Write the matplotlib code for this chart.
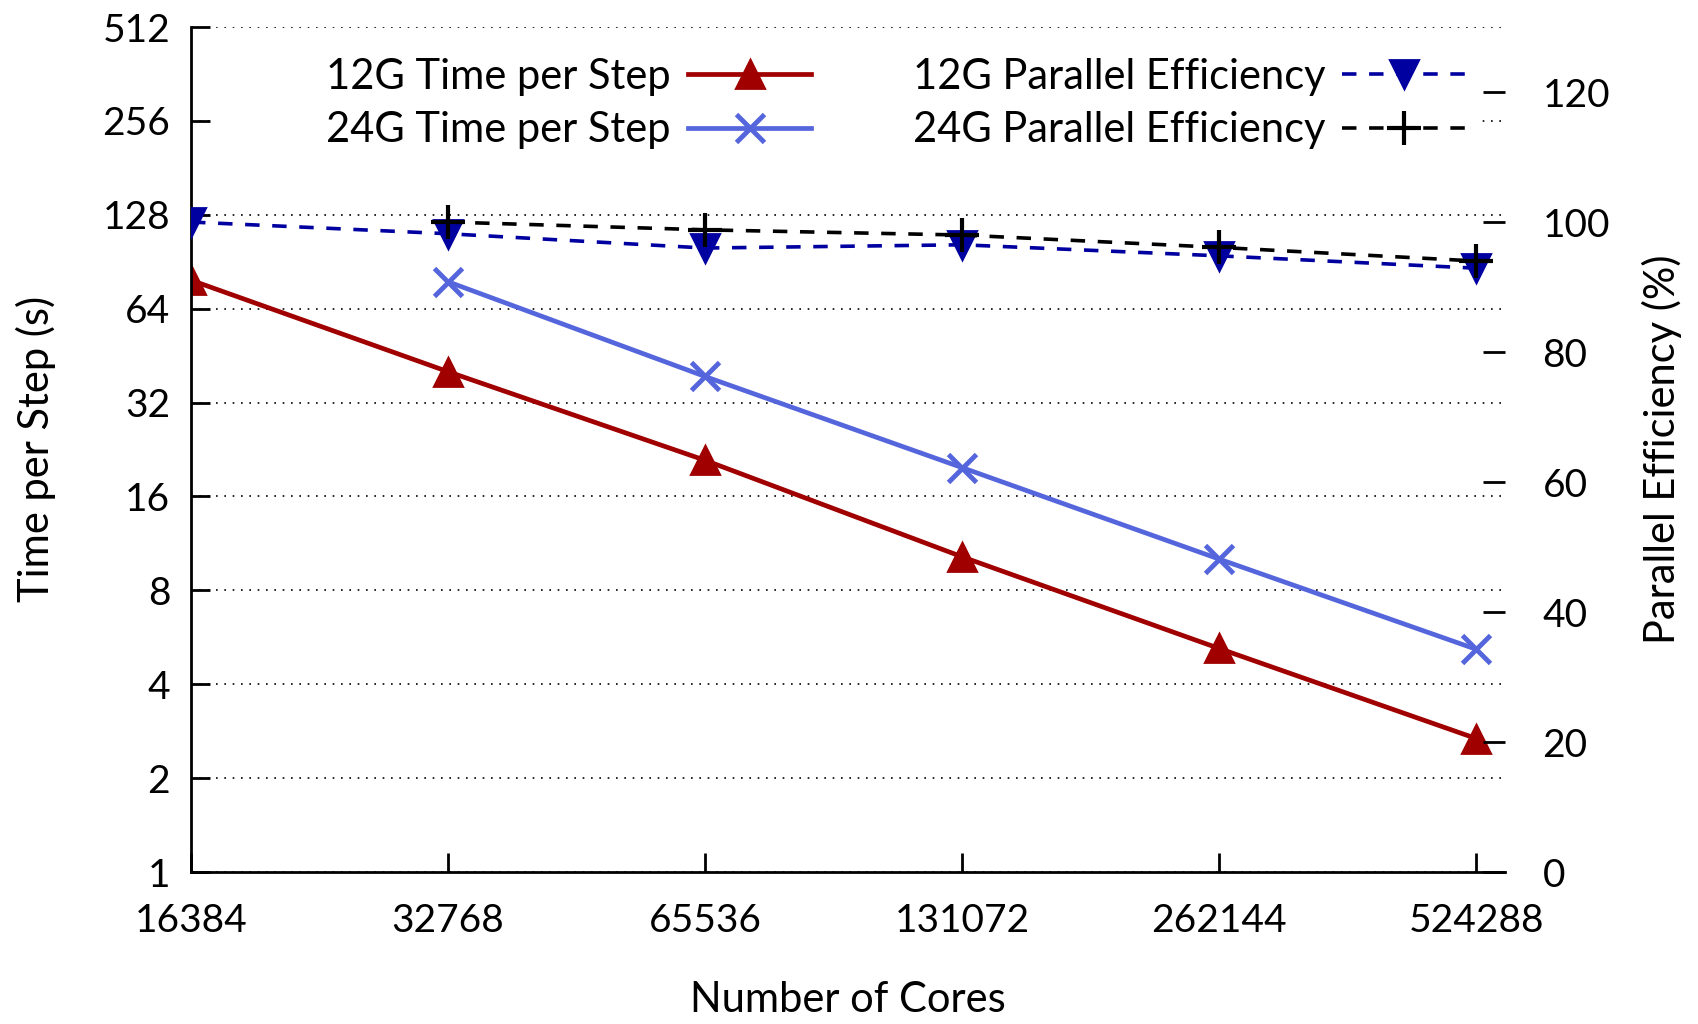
import numpy as np
import matplotlib
matplotlib.use("Agg")
import matplotlib.pyplot as plt
from matplotlib.ticker import NullLocator
from matplotlib.patches import Rectangle

plt.rcParams['font.family'] = ['Lato', 'DejaVu Sans']

# strong scaling runs
cores = [16384, 32768, 65536, 131072, 262144, 524288]
t12 = [79.0, 40.2, 20.9, 10.25, 5.21, 2.68]
t24 = [np.nan, 78.1, 38.8, 19.8, 10.08, 5.18]
eff12 = [100.0, 98.2, 96.0, 96.5, 94.8, 92.9]
eff24 = [np.nan, 100.0, 98.8, 98.0, 96.1, 94.0]

ytime = [1, 2, 4, 8, 16, 32, 64, 128, 256, 512]
yeff = [0, 20, 40, 60, 80, 100, 120]

red = '#a00000'
lblue = '#5566dd'
dblue = '#0000a0'
fs_tick = 28
fs = 30

fig = plt.figure(figsize=(16.98, 10.24), dpi=100)
ax = fig.add_axes([0.1125, 0.1484, 0.7739, 0.8252])
ax2 = ax.twinx()

# left axis: time per step
l1, = ax.plot(cores, t12, '-', color=red, lw=3.4, marker='^', ms=20, mew=2)
l2, = ax.plot(cores, t24, '-', color=lblue, lw=3.4, marker='x', ms=20, mew=3.5)
ax.set_xscale('log', base=2)
ax.set_yscale('log', base=2)
ax.set_xlim(16384, 524288 * 2 ** (29 / 257.0))
ax.set_ylim(1, 512)
ax.set_xticks(cores)
ax.set_xticklabels([str(c) for c in cores])
ax.set_yticks(ytime)
ax.set_yticklabels([str(v) for v in ytime])
ax.xaxis.set_minor_locator(NullLocator())
ax.yaxis.set_minor_locator(NullLocator())
ax.set_axisbelow(True)
ax.yaxis.grid(True, ls=(0, (1, 4)), color='k', lw=1.2)
ax.tick_params(axis='y', direction='in', length=14, width=2, labelsize=fs_tick, pad=15)
ax.tick_params(axis='x', direction='in', length=14, width=2, labelsize=fs_tick, pad=22)
for s in ['top', 'right']:
    ax.spines[s].set_visible(False)
for s in ['left', 'bottom']:
    ax.spines[s].set_linewidth(2)

# white box behind the key hides the grid
ax.add_patch(Rectangle((0.018, 0.843), 0.964, 0.142, transform=ax.transAxes,
                       facecolor='white', edgecolor='none', zorder=1))

# right axis: parallel efficiency
l3, = ax2.plot(cores, eff12, color=dblue, lw=2.6, ls=(0, (4, 3.5)), marker='v', ms=20, mew=2)
l4, = ax2.plot(cores, eff24, color='k', lw=2.6, ls=(0, (4, 3.5)), marker='+', ms=24, mew=3)
ax2.set_ylim(0, 130)
ax2.set_yticks(yeff)
ax2.set_yticklabels([str(v) for v in yeff])
ax2.tick_params(axis='y', direction='in', length=16, width=2, labelsize=fs_tick, pad=27)
for s in ax2.spines.values():
    s.set_visible(False)

fig.text(0.0212, 0.5615, 'Time per Step (s)', rotation=90, ha='center', va='center', fontsize=fs)
fig.text(0.9788, 0.5615, 'Parallel Efficiency (%)', rotation=90, ha='center', va='center', fontsize=fs)
fig.text(0.4994, 0.0234, 'Number of Cores', ha='center', va='center', fontsize=fs)

ax2.legend([l1, l2, l3, l4],
           ['12G Time per Step', '24G Time per Step',
            '12G Parallel Efficiency', '24G Parallel Efficiency'],
           ncol=2, markerfirst=False, frameon=False, fontsize=fs,
           handlelength=2.97, handletextpad=0.4, columnspacing=2.43,
           labelspacing=0.37, borderpad=0, loc='center',
           bbox_to_anchor=(0.5277, 0.8988), bbox_transform=fig.transFigure)

plt.savefig('out.png', dpi=100)
